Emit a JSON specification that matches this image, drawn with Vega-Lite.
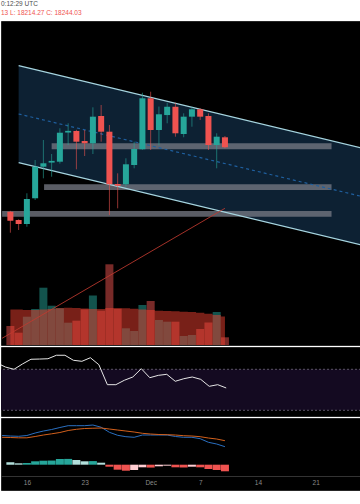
{
  "$schema": "https://vega.github.io/schema/vega-lite/v6.json",
  "background": "#ffffff",
  "padding": 0,
  "spacing": 0,
  "title": {"text": "0:12:29 UTC", "subtitle": "13 L: 18214.27 C: 18244.03", "anchor": "start", "frame": "group", "font": "Liberation Sans", "fontSize": 6.5, "fontWeight": "normal", "color": "#4d4d4d", "subtitleFont": "Liberation Sans", "subtitleFontSize": 6.5, "subtitleColor": "#ef5350", "subtitlePadding": 3, "offset": 4},
  "config": {"view": {"fill": "#000000", "stroke": "#262626"}, "font": "Liberation Sans"},
  "datasets": {
    "candles": [
      {"date":"2020-11-14","o":16335,"h":16360,"l":15712,"c":16068,"vol":38,"vma":71,"hist":60,"trend":"fadeup"},
      {"date":"2020-11-15","o":16089,"h":16110,"l":15792,"c":15970,"vol":24.6,"vma":71,"hist":35,"trend":"fadeup"},
      {"date":"2020-11-16","o":15970,"h":16880,"l":15890,"c":16711,"vol":56.6,"vma":70,"hist":42,"trend":"up"},
      {"date":"2020-11-17","o":16732,"h":17866,"l":16681,"c":17668,"vol":72,"vma":70,"hist":85,"trend":"up"},
      {"date":"2020-11-18","o":17668,"h":18459,"l":17324,"c":17769,"vol":114.6,"vma":71,"hist":100,"trend":"up"},
      {"date":"2020-11-19","o":17790,"h":18044,"l":17372,"c":17840,"vol":78.6,"vma":72,"hist":104,"trend":"up"},
      {"date":"2020-11-20","o":17816,"h":18806,"l":17760,"c":18675,"vol":73.4,"vma":74,"hist":142,"trend":"up"},
      {"date":"2020-11-21","o":18680,"h":18954,"l":18311,"c":18730,"vol":44.6,"vma":74.6,"hist":145,"trend":"up"},
      {"date":"2020-11-22","o":18726,"h":18760,"l":17591,"c":18409,"vol":48.6,"vma":74,"hist":117,"trend":"fadeup"},
      {"date":"2020-11-23","o":18430,"h":18755,"l":17985,"c":18362,"vol":71.4,"vma":73,"hist":85,"trend":"fadeup"},
      {"date":"2020-11-24","o":18362,"h":19428,"l":18044,"c":19150,"vol":99,"vma":72,"hist":90,"trend":"up"},
      {"date":"2020-11-25","o":19170,"h":19496,"l":18409,"c":18705,"vol":68.6,"vma":72,"hist":50,"trend":"fadeup"},
      {"date":"2020-11-26","o":18705,"h":18904,"l":16237,"c":17147,"vol":161.4,"vma":74,"hist":-50,"trend":"down"},
      {"date":"2020-11-27","o":17155,"h":17472,"l":16435,"c":17105,"vol":72,"vma":74,"hist":-125,"trend":"down"},
      {"date":"2020-11-28","o":17147,"h":17917,"l":17075,"c":17739,"vol":33.4,"vma":73.4,"hist":-150,"trend":"down"},
      {"date":"2020-11-29","o":17718,"h":18409,"l":17621,"c":18192,"vol":28,"vma":72.6,"hist":-132,"trend":"fadedown"},
      {"date":"2020-11-30","o":18185,"h":19860,"l":18170,"c":19695,"vol":80,"vma":71,"hist":-65,"trend":"fadedown"},
      {"date":"2020-12-01","o":19695,"h":19890,"l":18163,"c":18756,"vol":88,"vma":70,"hist":-72,"trend":"down"},
      {"date":"2020-12-02","o":18756,"h":19450,"l":18300,"c":19221,"vol":50,"vma":68.6,"hist":-40,"trend":"fadedown"},
      {"date":"2020-12-03","o":19198,"h":19564,"l":18954,"c":19444,"vol":46.6,"vma":68,"hist":-25,"trend":"fadedown"},
      {"date":"2020-12-04","o":19444,"h":19564,"l":18557,"c":18658,"vol":46.6,"vma":67.4,"hist":-65,"trend":"down"},
      {"date":"2020-12-05","o":18637,"h":19250,"l":18540,"c":19150,"vol":18,"vma":66.6,"hist":-70,"trend":"down"},
      {"date":"2020-12-06","o":19150,"h":19444,"l":18853,"c":19369,"vol":20,"vma":66,"hist":-50,"trend":"fadedown"},
      {"date":"2020-12-07","o":19369,"h":19398,"l":19052,"c":19150,"vol":32,"vma":64.6,"hist":-65,"trend":"down"},
      {"date":"2020-12-08","o":19170,"h":19250,"l":18163,"c":18311,"vol":45,"vma":62.6,"hist":-108,"trend":"down"},
      {"date":"2020-12-09","o":18311,"h":18658,"l":17621,"c":18557,"vol":66,"vma":60,"hist":-132,"trend":"down"},
      {"date":"2020-12-10","o":18539,"h":18578,"l":18214,"c":18244,"vol":15.4,"vma":57,"hist":-165,"trend":"down"}
    ],
    "ind": [
      {"date":"2020-11-13","rsi":76.1,"macd":730,"sig":685},
      {"date":"2020-11-14","rsi":72.2,"macd":717,"sig":680},
      {"date":"2020-11-15","rsi":70,"macd":710,"sig":672},
      {"date":"2020-11-16","rsi":75.2,"macd":730,"sig":672},
      {"date":"2020-11-17","rsi":79.8,"macd":792,"sig":705},
      {"date":"2020-11-18","rsi":80,"macd":842,"sig":742},
      {"date":"2020-11-19","rsi":80.3,"macd":880,"sig":772},
      {"date":"2020-11-20","rsi":83.7,"macd":930,"sig":805},
      {"date":"2020-11-21","rsi":83.7,"macd":975,"sig":855},
      {"date":"2020-11-22","rsi":78.8,"macd":975,"sig":885},
      {"date":"2020-11-23","rsi":77.8,"macd":975,"sig":905},
      {"date":"2020-11-24","rsi":81.3,"macd":992,"sig":912},
      {"date":"2020-11-25","rsi":74.5,"macd":937,"sig":917},
      {"date":"2020-11-26","rsi":55,"macd":810,"sig":892},
      {"date":"2020-11-27","rsi":55,"macd":735,"sig":867},
      {"date":"2020-11-28","rsi":59.3,"macd":700,"sig":842},
      {"date":"2020-11-29","rsi":62.5,"macd":685,"sig":817},
      {"date":"2020-11-30","rsi":70.6,"macd":742,"sig":785},
      {"date":"2020-12-01","rsi":61.8,"macd":742,"sig":767},
      {"date":"2020-12-02","rsi":64.1,"macd":742,"sig":755},
      {"date":"2020-12-03","rsi":65.1,"macd":742,"sig":750},
      {"date":"2020-12-04","rsi":58.3,"macd":705,"sig":742},
      {"date":"2020-12-05","rsi":60.8,"macd":685,"sig":725},
      {"date":"2020-12-06","rsi":62.5,"macd":685,"sig":717},
      {"date":"2020-12-07","rsi":60.2,"macd":650,"sig":700},
      {"date":"2020-12-08","rsi":53.4,"macd":560,"sig":667},
      {"date":"2020-12-09","rsi":55,"macd":517,"sig":642},
      {"date":"2020-12-10","rsi":51.8,"macd":450,"sig":600}
    ],
    "channel": [
      {"date":"2020-11-15","top":20661,"bottom":17789,"mid":19230},
      {"date":"2020-12-27","top":18193,"bottom":15321,"mid":16762}
    ],
    "zones": [
      {"from":"2020-11-19","to":"2020-12-22T22:00:00Z","lo":18184,"hi":18361},
      {"from":"2020-11-18T02:00:00Z","to":"2020-12-22T22:00:00Z","lo":16978,"hi":17147},
      {"from":"2020-11-13","to":"2020-12-22T22:00:00Z","lo":16187,"hi":16355}
    ],
    "trendline": [
      {"date":"2020-11-13","p":12585},
      {"date":"2020-12-10","p":16435}
    ]
  },
  "vconcat": [
    {
      "width": 360,
      "height": 324,
      "layer": [
        {
          "layer": [
            {
              "data": {"name": "channel"},
              "mark": {"type": "area", "color": "#0d2133", "clip": true},
              "encoding": {
                "x": {"field": "date", "type": "temporal", "scale": {"type": "utc", "domain": [{"year":2020,"month":11,"date":13,"hours":11,"minutes":17,"utc":true},{"year":2020,"month":12,"date":25,"hours":21,"minutes":7,"utc":true}]}, "axis": null},
                "y": {"field": "top", "type": "quantitative", "scale": {"domain": [12385, 21985], "nice": false, "zero": false}, "axis": null},
                "y2": {"field": "bottom"}
              }
            },
            {
              "data": {"name": "zones"},
              "mark": {"type": "rect", "color": "#787b86", "opacity": 0.75, "clip": true},
              "encoding": {
                "x": {"field": "from", "type": "temporal", "scale": {"type": "utc", "domain": [{"year":2020,"month":11,"date":13,"hours":11,"minutes":17,"utc":true},{"year":2020,"month":12,"date":25,"hours":21,"minutes":7,"utc":true}]}, "axis": null},
                "x2": {"field": "to"},
                "y": {"field": "hi", "type": "quantitative", "scale": {"domain": [12385, 21985], "nice": false, "zero": false}, "axis": null},
                "y2": {"field": "lo"}
              }
            },
            {
              "data": {"name": "channel"},
              "mark": {"type": "line", "color": "#a6d5e0", "strokeWidth": 1.2, "clip": true},
              "encoding": {
                "x": {"field": "date", "type": "temporal", "scale": {"type": "utc", "domain": [{"year":2020,"month":11,"date":13,"hours":11,"minutes":17,"utc":true},{"year":2020,"month":12,"date":25,"hours":21,"minutes":7,"utc":true}]}, "axis": null},
                "y": {"field": "top", "type": "quantitative", "scale": {"domain": [12385, 21985], "nice": false, "zero": false}, "axis": null}
              }
            },
            {
              "data": {"name": "channel"},
              "mark": {"type": "line", "color": "#a6d5e0", "strokeWidth": 1.2, "clip": true},
              "encoding": {
                "x": {"field": "date", "type": "temporal", "scale": {"type": "utc", "domain": [{"year":2020,"month":11,"date":13,"hours":11,"minutes":17,"utc":true},{"year":2020,"month":12,"date":25,"hours":21,"minutes":7,"utc":true}]}, "axis": null},
                "y": {"field": "bottom", "type": "quantitative", "scale": {"domain": [12385, 21985], "nice": false, "zero": false}, "axis": null}
              }
            },
            {
              "data": {"name": "channel"},
              "mark": {"type": "line", "color": "#1f5f9e", "strokeWidth": 1.2, "strokeDash": [3, 3], "clip": true},
              "encoding": {
                "x": {"field": "date", "type": "temporal", "scale": {"type": "utc", "domain": [{"year":2020,"month":11,"date":13,"hours":11,"minutes":17,"utc":true},{"year":2020,"month":12,"date":25,"hours":21,"minutes":7,"utc":true}]}, "axis": null},
                "y": {"field": "mid", "type": "quantitative", "scale": {"domain": [12385, 21985], "nice": false, "zero": false}, "axis": null}
              }
            }
          ]
        },
        {
          "data": {"name": "candles"},
          "layer": [
            {
              "mark": {"type": "bar", "size": 8, "opacity": 0.5},
              "encoding": {
                "x": {"field": "date", "type": "temporal", "scale": {"type": "utc", "domain": [{"year":2020,"month":11,"date":13,"hours":11,"minutes":17,"utc":true},{"year":2020,"month":12,"date":25,"hours":21,"minutes":7,"utc":true}]}, "axis": null},
                "y": {"field": "vol", "type": "quantitative", "scale": {"domain": [0, 648], "nice": false}, "axis": null},
                "color": {"condition": {"test": "datum.c >= datum.o", "value": "#26a69a"}, "value": "#ef5350"}
              }
            },
            {
              "mark": {"type": "area", "interpolate": "step", "color": "#f0402f", "opacity": 0.5},
              "encoding": {
                "x": {"field": "date", "type": "temporal", "scale": {"type": "utc", "domain": [{"year":2020,"month":11,"date":13,"hours":11,"minutes":17,"utc":true},{"year":2020,"month":12,"date":25,"hours":21,"minutes":7,"utc":true}]}, "axis": null},
                "y": {"field": "vma", "type": "quantitative", "scale": {"domain": [0, 648], "nice": false}, "axis": null}
              }
            }
          ]
        },
        {
          "layer": [
            {
              "data": {"name": "trendline"},
              "mark": {"type": "line", "color": "#c0392f", "strokeWidth": 1, "opacity": 0.85, "clip": true},
              "encoding": {
                "x": {"field": "date", "type": "temporal", "scale": {"type": "utc", "domain": [{"year":2020,"month":11,"date":13,"hours":11,"minutes":17,"utc":true},{"year":2020,"month":12,"date":25,"hours":21,"minutes":7,"utc":true}]}, "axis": null},
                "y": {"field": "p", "type": "quantitative", "scale": {"domain": [12385, 21985], "nice": false, "zero": false}, "axis": null}
              }
            },
            {
              "data": {"name": "candles"},
              "mark": {"type": "rule", "strokeWidth": 1, "opacity": 0.6},
              "encoding": {
                "x": {"field": "date", "type": "temporal", "scale": {"type": "utc", "domain": [{"year":2020,"month":11,"date":13,"hours":11,"minutes":17,"utc":true},{"year":2020,"month":12,"date":25,"hours":21,"minutes":7,"utc":true}]}, "axis": null},
                "y": {"field": "l", "type": "quantitative", "scale": {"domain": [12385, 21985], "nice": false, "zero": false}, "axis": null},
                "y2": {"field": "h"},
                "color": {"condition": {"test": "datum.c >= datum.o", "value": "#26a69a"}, "value": "#ef5350"}
              }
            },
            {
              "data": {"name": "candles"},
              "mark": {"type": "bar", "size": 6},
              "encoding": {
                "x": {"field": "date", "type": "temporal", "scale": {"type": "utc", "domain": [{"year":2020,"month":11,"date":13,"hours":11,"minutes":17,"utc":true},{"year":2020,"month":12,"date":25,"hours":21,"minutes":7,"utc":true}]}, "axis": null},
                "y": {"field": "o", "type": "quantitative", "scale": {"domain": [12385, 21985], "nice": false, "zero": false}, "axis": null},
                "y2": {"field": "c"},
                "color": {"condition": {"test": "datum.c >= datum.o", "value": "#26a69a"}, "value": "#ef5350"}
              }
            }
          ]
        }
      ],
      "resolve": {"scale": {"y": "independent"}}
    },
    {
      "width": 360,
      "height": 69,
      "layer": [
        {
          "data": {"values": [{"lo": 30, "hi": 70}]},
          "mark": {"type": "rect", "color": "#140a21"},
          "encoding": {
            "y": {"field": "hi", "type": "quantitative", "scale": {"domain": [24.44, 91.76], "nice": false, "zero": false}, "axis": null},
            "y2": {"field": "lo"}
          }
        },
        {
          "data": {"values": [{"lvl": 70}, {"lvl": 30}]},
          "mark": {"type": "rule", "color": "#5a5466", "strokeWidth": 1, "strokeDash": [2, 2]},
          "encoding": {
            "y": {"field": "lvl", "type": "quantitative", "scale": {"domain": [24.44, 91.76], "nice": false, "zero": false}, "axis": null}
          }
        },
        {
          "data": {"name": "ind"},
          "mark": {"type": "line", "color": "#e6e6e6", "strokeWidth": 1, "clip": true},
          "encoding": {
            "x": {"field": "date", "type": "temporal", "scale": {"type": "utc", "domain": [{"year":2020,"month":11,"date":13,"hours":11,"minutes":17,"utc":true},{"year":2020,"month":12,"date":25,"hours":21,"minutes":7,"utc":true}]}, "axis": null},
            "y": {"field": "rsi", "type": "quantitative", "scale": {"domain": [24.44, 91.76], "nice": false, "zero": false}, "axis": null}
          }
        }
      ]
    },
    {
      "width": 360,
      "height": 72,
      "layer": [
        {
          "data": {"name": "candles"},
          "mark": {"type": "bar", "size": 8},
          "encoding": {
            "x": {"field": "date", "type": "temporal", "scale": {"type": "utc", "domain": [{"year":2020,"month":11,"date":13,"hours":11,"minutes":17,"utc":true},{"year":2020,"month":12,"date":25,"hours":21,"minutes":7,"utc":true}]},
              "axis": {"orient": "bottom", "offset": -14, "values": [{"year":2020,"month":11,"date":16,"utc":true},{"year":2020,"month":11,"date":23,"utc":true},{"year":2020,"month":12,"date":1,"utc":true},{"year":2020,"month":12,"date":7,"utc":true},{"year":2020,"month":12,"date":14,"utc":true},{"year":2020,"month":12,"date":21,"utc":true}], "labelExpr": "utcdate(datum.value) == 1 ? 'Dec' : '' + utcdate(datum.value)", "title": null, "ticks": false, "grid": false, "domainColor": "#333333", "labelColor": "#8a8a8a", "labelFontSize": 6.5, "labelPadding": 3, "labelFont": "Liberation Sans"}},
            "y": {"field": "hist", "type": "quantitative", "scale": {"domain": [-632.5, 1167.5], "nice": false, "zero": false}, "axis": null},
            "y2": {"datum": 0},
            "color": {"field": "trend", "type": "nominal", "scale": {"domain": ["up", "fadeup", "down", "fadedown"], "range": ["#26a69a", "#b2dfdb", "#ef5350", "#ffcdd2"]}, "legend": null}
          }
        },
        {
          "data": {"name": "ind"},
          "mark": {"type": "line", "color": "#2a6fc0", "strokeWidth": 1, "clip": true},
          "encoding": {
            "x": {"field": "date", "type": "temporal", "scale": {"type": "utc", "domain": [{"year":2020,"month":11,"date":13,"hours":11,"minutes":17,"utc":true},{"year":2020,"month":12,"date":25,"hours":21,"minutes":7,"utc":true}]}},
            "y": {"field": "macd", "type": "quantitative", "scale": {"domain": [-632.5, 1167.5], "nice": false, "zero": false}, "axis": null}
          }
        },
        {
          "data": {"name": "ind"},
          "mark": {"type": "line", "color": "#d3601c", "strokeWidth": 1, "clip": true},
          "encoding": {
            "x": {"field": "date", "type": "temporal", "scale": {"type": "utc", "domain": [{"year":2020,"month":11,"date":13,"hours":11,"minutes":17,"utc":true},{"year":2020,"month":12,"date":25,"hours":21,"minutes":7,"utc":true}]}},
            "y": {"field": "sig", "type": "quantitative", "scale": {"domain": [-632.5, 1167.5], "nice": false, "zero": false}, "axis": null}
          }
        }
      ]
    }
  ]
}
